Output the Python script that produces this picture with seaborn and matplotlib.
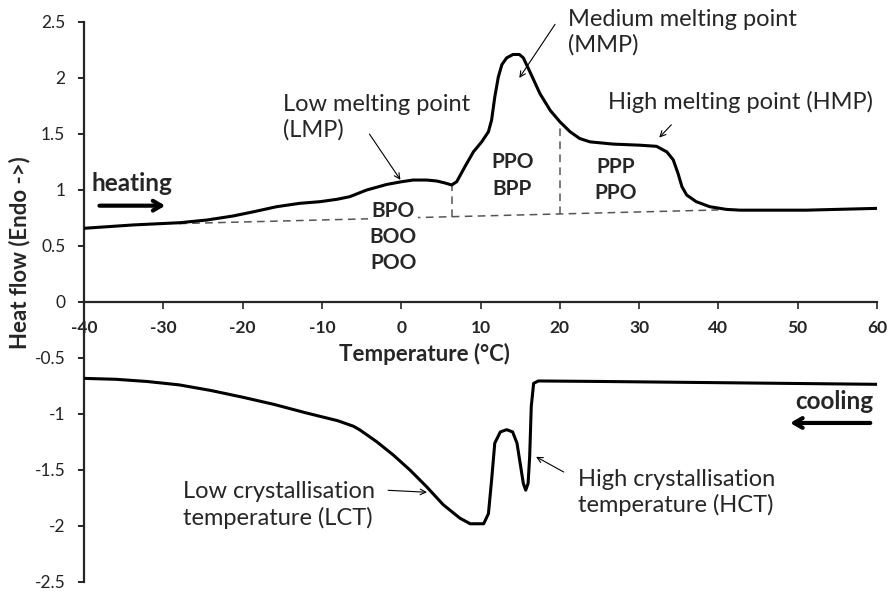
import numpy as np
import pandas as pd
import seaborn as sns
import matplotlib.pyplot as plt

# DSC thermogram: heating (top) and cooling (bottom)
heat_temp = [-40, -33.8, -27.9, -24.5, -21.2, -18.6, -15.7, -12.8, -10.2, -8.1, -6.5,
             -4.35, -1.8, 0.06, 1.5, 3.2, 4.5, 5.4, 6.37, 7.0, 8.05, 9.1, 10.15, 11.0, 11.4,
             11.8, 12.25, 12.7, 13.3, 14.1, 14.9, 15.4, 16.2, 17.5, 18.8, 20.0, 21.3, 22.5,
             23.8, 26.7, 30.1, 32.2, 33.5, 34.3, 34.9, 35.4, 36.0, 37.2, 38.9, 41.0, 42.7,
             51.1, 60]
heat_flow = [0.658, 0.688, 0.708, 0.732, 0.768, 0.806, 0.851, 0.881, 0.896, 0.917, 0.94,
             1.0, 1.05, 1.074, 1.089, 1.089, 1.08, 1.065, 1.045, 1.074, 1.21, 1.34, 1.43, 1.52, 1.625,
             1.83, 2.01, 2.12, 2.18, 2.21, 2.21, 2.18, 2.06, 1.86, 1.71, 1.61, 1.52, 1.46,
             1.43, 1.41, 1.40, 1.39, 1.34, 1.27, 1.15, 1.03, 0.955, 0.896, 0.851, 0.827, 0.82,
             0.82, 0.836]

cool_temp = [-40, -36, -32, -28, -24, -20, -16, -12, -8, -6, -5.2, -3.1, -1.0, 1.1, 3.2,
             5.3, 7.4, 8.7, 10.4, 11.0, 11.4, 11.8, 12.5, 13.3, 14.05, 14.6, 15.0, 15.4,
             15.7, 16.0, 16.2, 16.4, 16.7, 17.3, 25.9, 60]
cool_flow = [-0.682, -0.69, -0.71, -0.74, -0.79, -0.85, -0.915, -0.99, -1.06, -1.11, -1.143,
             -1.247, -1.366, -1.5, -1.649, -1.81, -1.93, -1.98, -1.98, -1.89, -1.59, -1.26,
             -1.16, -1.14, -1.16, -1.26, -1.44, -1.62, -1.68, -1.62, -1.38, -0.935, -0.726,
             -0.705, -0.71, -0.735]

# baseline + split lines
base_temp = [-28, 40]
base_flow = [0.70, 0.822]
split_temp = [6.37, 20.0]
split_low = [0.762, 0.786]
split_high = [1.045, 1.61]

groups = {'BPO\nBOO\nPOO': (-1.0, 0.58), 'PPO\nBPP': (14.0, 1.13), 'PPP\nPPO': (27.1, 1.09)}

df_heat = pd.DataFrame({'T': heat_temp, 'HF': heat_flow})
df_cool = pd.DataFrame({'T': cool_temp, 'HF': cool_flow})

sns.set_style('ticks')
plt.rcParams['font.family'] = ['Lato', 'DejaVu Sans']
plt.rcParams['axes.unicode_minus'] = False

fig = plt.figure(figsize=(8.92, 5.94), dpi=100)
ax = fig.add_axes([84 / 892, 12 / 594, 793 / 892, 560 / 594])

dash = (0, (5, 3.5))
ax.plot(base_temp, base_flow, color='#555555', lw=1.1, linestyle=dash, zorder=1)
for t, lo, hi in zip(split_temp, split_low, split_high):
    ax.plot([t, t], [lo, hi], color='#555555', lw=1.1, linestyle=dash, zorder=1)

sns.lineplot(data=df_heat, x='T', y='HF', color='black', lw=2.2, sort=False, ax=ax, zorder=3)
sns.lineplot(data=df_cool, x='T', y='HF', color='black', lw=2.2, sort=False, ax=ax, zorder=3)

ax.set_xlim(-40, 60)
ax.set_ylim(-2.5, 2.5)
ax.set_xticks(np.arange(-40, 61, 10))
ax.set_yticks(np.arange(-2.5, 2.51, 0.5))
ax.set_yticklabels(['-2.5', '-2', '-1.5', '-1', '-0.5', '0', '0.5', '1', '1.5', '2', '2.5'])
ax.spines['bottom'].set_position(('data', 0))
ax.spines['top'].set_visible(False)
ax.spines['right'].set_visible(False)
ax.spines['left'].set_linewidth(1.6)
ax.spines['bottom'].set_linewidth(1.6)
ax.tick_params(axis='y', direction='out', length=4.5, width=1.2, pad=9, labelsize=12.5,
               colors='black', labelcolor='#222222')
ax.tick_params(axis='x', direction='out', length=5, width=1.2, pad=8, labelsize=12.5)
for lbl in ax.get_xticklabels():
    lbl.set_fontweight('bold')

ax.set_xlabel('')
ax.set_ylabel('Heat flow (Endo ->)', fontsize=16, fontweight='bold')
ax.yaxis.set_label_coords(-0.068, 0.5875)
ax.text(2.9, -0.46, 'Temperature (°C)', fontsize=16, fontweight='bold', ha='center', va='center')

for txt, (x, y) in groups.items():
    ax.text(x, y, txt, fontsize=15, fontweight='bold', ha='center', va='center', linespacing=1.4,
            bbox=dict(facecolor='white', edgecolor='none', pad=1), zorder=2)

thin = dict(arrowstyle='->', color='black', lw=0.8)
ax.text(-14.9, 1.65, 'Low melting point\n(LMP)', fontsize=17, ha='left', va='center', linespacing=1.25)
ax.annotate('', xy=(0.1, 1.07), xytext=(-4.2, 1.52), arrowprops=thin)
ax.text(21.0, 2.41, 'Medium melting point\n(MMP)', fontsize=17, ha='left', va='center', linespacing=1.25)
ax.annotate('', xy=(14.7, 1.98), xytext=(19.6, 2.5), arrowprops=thin)
ax.text(26.1, 1.79, 'High melting point (HMP)', fontsize=17, ha='left', va='center')
ax.annotate('', xy=(32.3, 1.45), xytext=(34.3, 1.60), arrowprops=thin)
ax.text(-27.5, -1.815, 'Low crystallisation\ntemperature (LCT)', fontsize=17, ha='left', va='center',
        linespacing=1.25)
ax.annotate('', xy=(3.6, -1.70), xytext=(-2.0, -1.68), arrowprops=thin)
ax.text(22.3, -1.70, 'High crystallisation\ntemperature (HCT)', fontsize=17, ha='left', va='center',
        linespacing=1.25)
ax.annotate('', xy=(16.7, -1.37), xytext=(20.8, -1.53), arrowprops=thin)

thick = dict(arrowstyle='->,head_width=0.35,head_length=0.6', color='black', lw=3)
ax.text(-39, 1.06, 'heating', fontsize=17.5, fontweight='bold', ha='left', va='center')
ax.annotate('', xy=(-29.4, 0.86), xytext=(-38.4, 0.86), arrowprops=thick)
ax.text(59.5, -0.89, 'cooling', fontsize=17.5, fontweight='bold', ha='right', va='center')
ax.annotate('', xy=(48.7, -1.08), xytext=(59.5, -1.08), arrowprops=thick)

fig.savefig('out.png', dpi=100)
